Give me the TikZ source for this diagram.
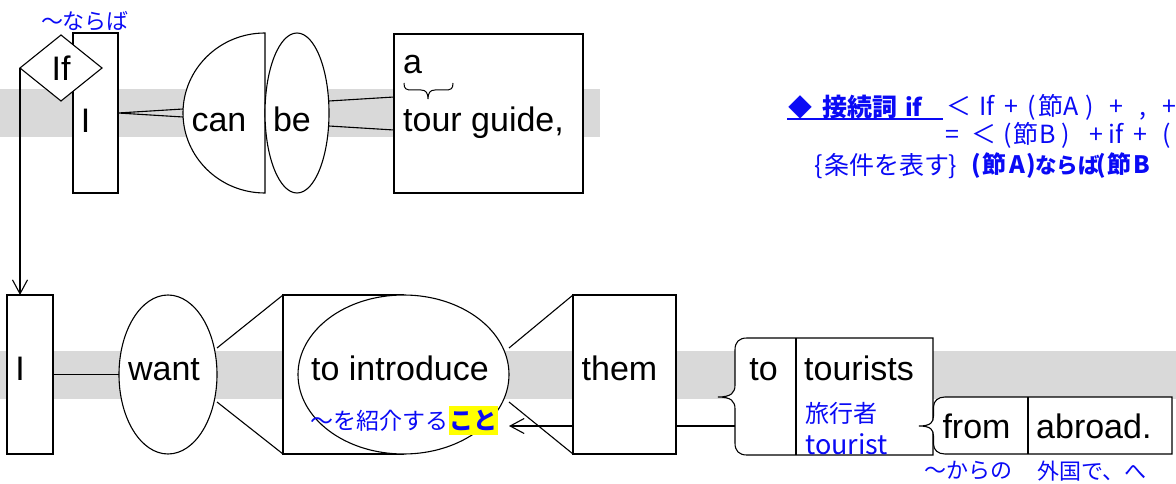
\documentclass[tikz,border=0pt]{standalone}
\usepackage{fontspec}
\setmainfont{Liberation Sans}
\newfontfamily\jp{Noto Sans CJK JP}
\usetikzlibrary{shapes.geometric,arrows.meta,calc}
\definecolor{band}{RGB}{217,217,217}
\definecolor{jblue}{RGB}{10,10,245}
\definecolor{hl}{RGB}{255,255,0}
\newcommand\tk[2]{\makebox[0pt]{#1}\hspace{#2pt}}
\begin{document}
\begin{tikzpicture}[x=1pt,y=-1pt,
  shapebox/.style={draw=black,fill=white,line width=1.1pt,inner sep=0pt,outer sep=0pt},
  outline/.style={draw=black,fill=white,line width=1.1pt},
  conn/.style={draw=black,line width=1.1pt},
  arr/.style={conn,-{Straight Barb[length=14pt,width=15pt,line width=1.1pt]}},
  word/.style={font=\fontsize{34}{40}\selectfont,inner sep=0pt,anchor=base},
  jtext/.style={font=\jp\fontsize{22}{26}\selectfont,text=jblue,inner sep=0pt},
  rtext/.style={font=\jp\fontsize{25}{28}\selectfont,text=jblue,inner sep=0pt,anchor=west},
  rbold/.style={rtext,font=\jp\bfseries\fontsize{24}{28}\selectfont}]
\useasboundingbox (0,0) rectangle (1176,484);
\clip (0,0) rectangle (1176,484);
% bands
\fill[band] (0,89) rectangle (600,137);
\fill[band] (0,351) rectangle (1176,399);
% ---------- top clause ----------
\node[shapebox,minimum width=45,minimum height=160] (I1) at (95.5,113) {};
\node[word] (I1t) at (85.5,133) {I};
\node[shapebox,diamond,minimum width=82,minimum height=66,font=\fontsize{34}{40}\selectfont] (ifd) at (61,68) {If};
\node[jtext] (nara) at (85,21) {～ならば};
\path[outline] (265,33) arc[start angle=-90,end angle=-270,x radius=82,y radius=80] -- cycle;
\coordinate (canw) at (183,113);
\node[word] (can) at (219,132) {can};
\node[shapebox,ellipse,minimum width=64,minimum height=160] (be) at (297,113) {};
\node[word] (bet) at (292,132) {be};
\node[shapebox,minimum width=189,minimum height=159] (tg) at (488.5,113.5) {};
\node[word,anchor=base west] (a) at (403,74) {a};
\node[word,anchor=base west] (tgt) at (403,132) {tour guide,};
\draw[conn,line width=1pt] (404,83) .. controls (404,89) and (406,90) .. (412,90) -- (421,90) .. controls (426,90) and (428,93) .. (428,99) .. controls (428,93) and (430,90) .. (435,90) -- (445,90) .. controls (451,90) and (453,89) .. (453,83);
\draw[conn] ($(canw)+(0,-4)$) -- (I1.east) -- ($(canw)+(0,4)$);
\draw[conn] ($(be.east)+(0,-12)$) -- ($(tg.west)+(0,-16.5)$);
\draw[conn] ($(be.east)+(0,13)$) -- ($(tg.west)+(0,16.5)$);
% ---------- explanation ----------
\node[rbold] (kw) at (800,107) {\tk{◆}{59.5}\tk{\fontsize{25}{28}\selectfont 接続詞}{54}\tk{if}{0}};
\draw[jblue,line width=2pt] (787,119) -- (943,119);
\node[rtext] (f1) at (959,107) {\tk{＜}{28}\tk{If}{24}\tk{+}{21}\tk{(}{19}\tk{節}{20}\tk{A}{19}\tk{)}{26}\tk{+}{27}\tk{,}{26}\tk{+}{0}};
\node[rtext] (f2) at (952,135) {\tk{=}{32}\tk{＜}{24}\tk{(}{18}\tk{節}{22}\tk{B}{18}\tk{)}{30}\tk{+}{20}\tk{if}{24}\tk{+}{27}\tk{(}{0}};
\node[rtext] (f3) at (818.5,166) {\tk{\{}{68.5}\tk{条件を表す}{65.5}\tk{\}}{0}};
\node[rbold] (f4) at (976.5,166) {\tk{(}{17.5}\tk{節}{23.5}\tk{A}{14}\tk{)}{36}\tk{\fontsize{21.5}{28}\selectfont ならば}{34}\tk{(}{17.5}\tk{節}{22.5}\tk{B}{0}};
% ---------- main clause ----------
\node[shapebox,minimum width=46,minimum height=159] (I2) at (30,374.5) {};
\node[word] (I2t) at (20,380) {I};
\draw[arr] (ifd.west) -- (ifd.west |- I2.north);
\node[shapebox,ellipse,minimum width=98,minimum height=159] (want) at (168,374.5) {};
\node[word] (wantt) at (164,380) {want};
\draw[conn] (I2.east) -- (want.west);
\node[shapebox,minimum width=120,minimum height=159] (vp) at (343,374.5) {};
\node[shapebox,ellipse,minimum width=211,minimum height=159] (intro) at (403.5,374.5) {};
\node[word] (introt) at (400,380) {to introduce};
\draw[conn] ($(want.east)+(0,-26.5)$) -- (vp.north west);
\draw[conn] ($(want.east)+(0,27.5)$) -- (vp.south west);
\node[jtext,font=\jp\fontsize{23}{26}\selectfont,anchor=east] (shokai) at (449,421) {～を紹介する};
\node[fill=hl,text=jblue,font=\jp\bfseries\fontsize{24}{26}\selectfont,inner xsep=0.5pt,inner ysep=4pt,anchor=west] (koto) at (449,420.5) {こと};
\coordinate (g1) at (735,426);
\draw[arr] (g1) -- (intro.east |- g1);
\node[shapebox,minimum width=103,minimum height=159] (them) at (624.5,374.5) {};
\node[word] (themt) at (619.5,380) {them};
\draw[conn] ($(intro.east)+(0,-26.5)$) -- (them.north west);
\draw[conn] ($(intro.east)+(0,27.5)$) -- (them.south west);
% group "to tourists"
\path[outline] (933,338) -- (747,338) .. controls (739,338) and (735,342) .. (735,350) -- (735,385) .. controls (735,393) and (731,397) .. (718,397) .. controls (731,397) and (735,401) .. (735,409) -- (735,443) .. controls (735,451) and (739,455) .. (747,455) -- (933,455) -- cycle;
\coordinate (d1t) at (796,338);
\coordinate (d1b) at (796,455);
\draw[conn] (d1t) -- (d1b);
\node[word] (to) at (763.5,380) {to};
\node[word,anchor=base west] (tourists) at (804,380) {tourists};
\node[jtext,font=\jp\fontsize{24}{28}\selectfont,anchor=west] (ryoko) at (805,413) {旅行者};
\node[jtext,font=\jp\fontsize{27}{28}\selectfont,anchor=west] (tourist) at (805,444) {tourist};
% group "from abroad."
\path[outline] (1172,397) -- (945,397) .. controls (938,397) and (933.5,401) .. (933.5,407) -- (933.5,416) .. controls (933.5,422) and (931,426) .. (919,426) .. controls (931,426) and (933.5,430) .. (933.5,436) -- (933.5,444) .. controls (933.5,450) and (938,454) .. (945,454) -- (1172,454) -- cycle;
\coordinate (d2t) at (1028,397);
\coordinate (d2b) at (1028,454);
\draw[conn] (d2t) -- (d2b);
\node[word] (from) at (976.5,438) {from};
\node[word,anchor=base west] (abroad) at (1036,438) {abroad.};
\node[jtext] (kara) at (968,471) {～からの};
\node[jtext,anchor=west] (gaikoku) at (1037,471) {外国で、へ};
\end{tikzpicture}
\end{document}
